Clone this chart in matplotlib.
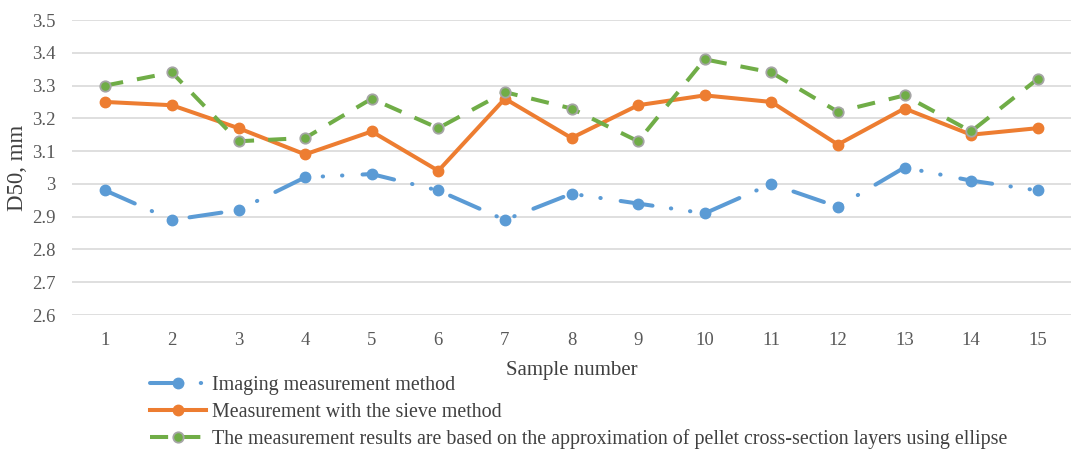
import matplotlib
matplotlib.use("Agg")
import matplotlib.pyplot as plt
from matplotlib.ticker import FuncFormatter

plt.rcParams["font.family"] = ["Liberation Serif", "DejaVu Serif"]

samples = list(range(1, 16))
imaging = [2.98, 2.89, 2.92, 3.02, 3.03, 2.98, 2.89, 2.97, 2.94, 2.91, 3.00, 2.93, 3.05, 3.01, 2.98]
sieve = [3.25, 3.24, 3.17, 3.09, 3.16, 3.04, 3.26, 3.14, 3.24, 3.27, 3.25, 3.12, 3.23, 3.15, 3.17]
ellipse = [3.30, 3.34, 3.13, 3.14, 3.26, 3.17, 3.28, 3.23, 3.13, 3.38, 3.34, 3.22, 3.27, 3.16, 3.32]

labels = [
    "Imaging measurement method",
    "Measurement with the sieve method",
    "The measurement results are based on the approximation of pellet cross-section layers using ellipse",
]


def fmt_y(v, pos):
    s = f"{v:.1f}"
    return "3" if s == "3.0" else s


fig = plt.figure(figsize=(10.78, 4.5), dpi=100)
ax = fig.add_axes([72 / 1078, 0.30, 999 / 1078, 295 / 450])

ax.plot(samples, imaging, color="#5b9bd5", lw=2.9, ls=(0, (8, 4.6, 0.1, 4.7, 0.1, 5)),
        dash_capstyle="round", marker="o", ms=7.5, label=labels[0])
ax.plot(samples, sieve, color="#ed7d31", lw=2.9, ls="-",
        marker="o", ms=7.5, label=labels[1])
ax.plot(samples, ellipse, color="#70ad47", lw=2.9, ls=(0, (4.5, 3.5)),
        marker="o", ms=7.5, mfc="#70ad47", mec="#a5a5a5", mew=1.3, label=labels[2])

ax.set_xlim(0.5, 15.5)
ax.set_ylim(2.6, 3.5)
ax.set_xticks(samples)
ax.set_yticks([2.6 + 0.1 * i for i in range(10)])
ax.yaxis.set_major_formatter(FuncFormatter(fmt_y))
ax.grid(axis="y", color="#d9d9d9", lw=1.2)
ax.set_axisbelow(True)
for s in ax.spines.values():
    s.set_visible(False)
ax.tick_params(length=0, labelsize=13.5, colors="#595959")
ax.tick_params(axis="y", pad=12)
ax.tick_params(axis="x", pad=12)

ax.set_xlabel("Sample number", fontsize=15, color="#404040", labelpad=9)
ax.set_ylabel("D50, mm", fontsize=16.5, color="#404040")
ax.yaxis.set_label_coords(-44 / 999, 0.5)

fig.legend(loc="upper left", bbox_to_anchor=(150 / 1078, 1 - 376 / 450), frameon=False,
           fontsize=14.4, labelcolor="#404040", handlelength=2.8, handletextpad=0.3,
           labelspacing=0.38, borderaxespad=0, borderpad=0)

fig.savefig("out.png", dpi=100)
